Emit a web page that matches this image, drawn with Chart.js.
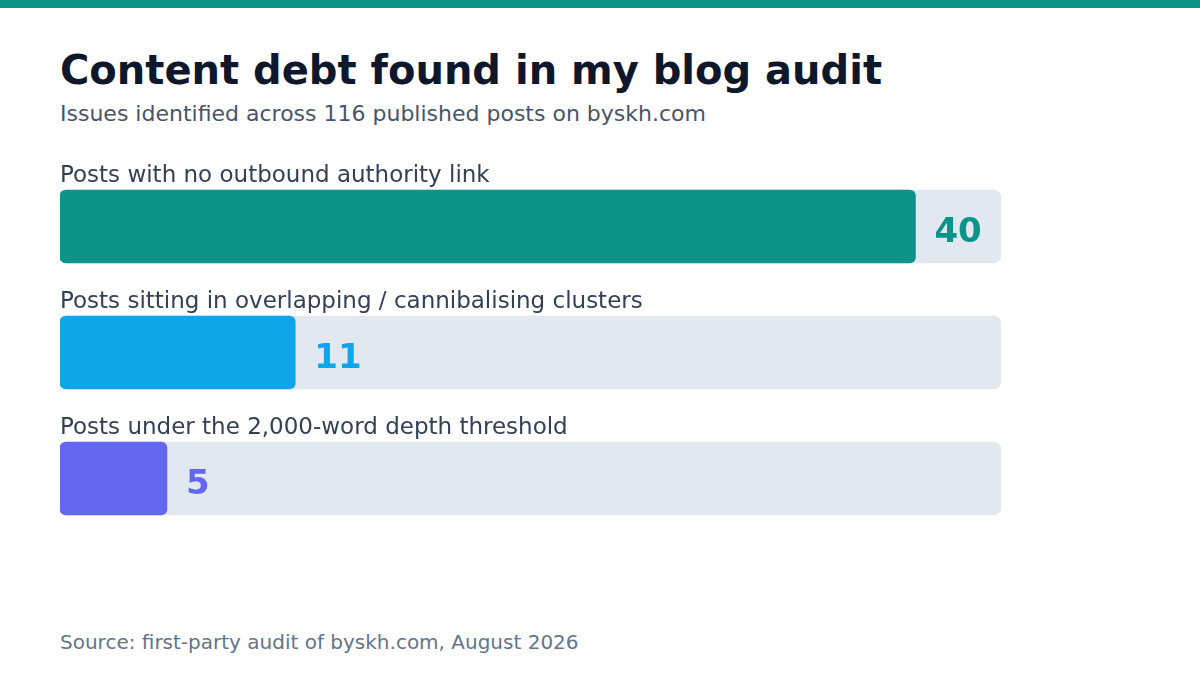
<!DOCTYPE html>
<html>
<head>
<meta charset="utf-8">
<script src="https://cdn.jsdelivr.net/npm/chart.js@4"></script>
<style>
  html, body { margin: 0; padding: 0; background: #fff; }
  body { width: 1200px; height: 700px; position: relative; overflow: hidden; font-family: "DejaVu Sans", sans-serif; }
  .stripe { position: absolute; left: 0; top: 0; width: 1200px; height: 8px; background: #0d9488; }
  h1 { position: absolute; left: 60px; top: 46px; margin: 0; font-size: 40px; font-weight: bold; color: #0f172a; line-height: 48px; }
  .sub { position: absolute; left: 60px; top: 100px; font-size: 22px; color: #475569; line-height: 28px; }
  .src { position: absolute; left: 60px; top: 629px; font-size: 20px; color: #64748b; line-height: 26px; }
  .wrap { position: absolute; left: 0; top: 150px; width: 1200px; height: 400px; }
</style>
</head>
<body>
<div class="stripe"></div>
<h1>Content debt found in my blog audit</h1>
<div class="sub">Issues identified across 116 published posts on byskh.com</div>
<div class="wrap"><canvas id="auditChart"></canvas></div>
<div class="src">Source: first-party audit of byskh.com, August 2026</div>
<script>
  // Audit data
  const issues = ['Posts with no outbound authority link', 'Posts sitting in overlapping / cannibalising clusters', 'Posts under the 2,000-word depth threshold'];
  const postCounts = [40, 11, 5];
  const barColors = ['#0d9488', '#0ea5e9', '#6366f1'];
  const scaleMax = 44;
  const trackValues = [scaleMax, scaleMax, scaleMax];

  // Draws the category text above each bar and the value after it
  const labelPlugin = {
    id: 'barLabels',
    afterDatasetsDraw(chart) {
      const ctx = chart.ctx;
      const meta = chart.getDatasetMeta(1);
      ctx.save();
      meta.data.forEach(function(bar, i) {
        const top = bar.y - bar.height / 2;
        ctx.font = '23px "DejaVu Sans"';
        ctx.fillStyle = '#334155';
        ctx.textBaseline = 'alphabetic';
        ctx.textAlign = 'left';
        ctx.fillText(issues[i], chart.chartArea.left, top - 8);

        ctx.font = 'bold 34px "DejaVu Sans"';
        ctx.fillStyle = barColors[i];
        ctx.textBaseline = 'middle';
        ctx.fillText(String(postCounts[i]), bar.x + 19, bar.y + 7);
      });
      ctx.restore();
    }
  };

  const ctx = document.getElementById('auditChart').getContext('2d');
  new Chart(ctx, {
    type: 'bar',
    data: {
      labels: issues,
      datasets: [{
        label: 'track',
        data: trackValues,
        backgroundColor: '#e2e8f0',
        borderRadius: 8,
        borderSkipped: false,
        barThickness: 73,
        order: 2
      }, {
        label: 'Posts',
        data: postCounts,
        backgroundColor: barColors,
        borderRadius: 6,
        borderSkipped: false,
        barThickness: 73,
        order: 1
      }]
    },
    options: {
      indexAxis: 'y',
      responsive: true,
      maintainAspectRatio: false,
      animation: false,
      grouped: false,
      layout: { padding: { left: 60, right: 199, top: 13.5, bottom: 8.5 } },
      scales: {
        x: { display: false, min: 0, max: scaleMax },
        y: { display: false }
      },
      plugins: {
        legend: { display: false },
        tooltip: { enabled: false }
      }
    },
    plugins: [labelPlugin]
  });
</script>
</body>
</html>
